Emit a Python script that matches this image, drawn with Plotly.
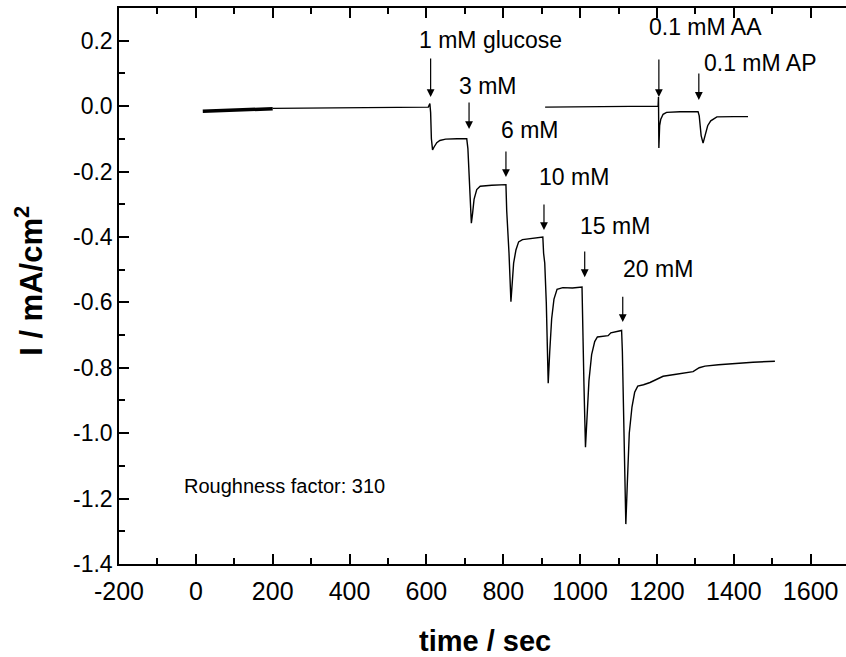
import plotly.graph_objects as go

# ---- data ----
noisy_t = [18, 60, 100, 150, 200]
noisy_i = [-0.016, -0.014, -0.012, -0.010, -0.008]

glucose_t = [200, 400, 605, 609, 611, 613, 616, 620, 627, 635, 650, 680, 705,
             708, 712, 717, 720, 724, 731, 740, 770, 800, 807,
             809, 812, 815, 820, 823, 827, 833, 840, 850, 870, 903,
             905, 908, 912, 917, 921, 926, 932, 940, 955, 980, 1005,
             1007, 1010, 1014, 1018, 1023, 1030, 1038, 1045, 1060, 1073, 1080, 1095, 1108,
             1110, 1114, 1119, 1123, 1128, 1135, 1142, 1150, 1165, 1182, 1200, 1216,
             1250, 1275, 1294, 1310, 1325, 1360, 1398, 1450, 1507]
glucose_i = [-0.007, -0.005, -0.003, 0.008, -0.02, -0.10, -0.134, -0.125, -0.112, -0.105, -0.101, -0.100, -0.100,
             -0.13, -0.22, -0.358, -0.33, -0.285, -0.255, -0.245, -0.242, -0.241, -0.240,
             -0.32, -0.37, -0.45, -0.598, -0.55, -0.48, -0.44, -0.415, -0.408, -0.405, -0.400,
             -0.45, -0.48, -0.60, -0.847, -0.75, -0.65, -0.59, -0.560, -0.555, -0.556, -0.553,
             -0.70, -0.85, -1.043, -0.95, -0.84, -0.76, -0.72, -0.706, -0.705, -0.702, -0.693, -0.690, -0.686,
             -0.75, -1.0, -1.278, -1.15, -1.0, -0.92, -0.875, -0.856, -0.852, -0.845, -0.835, -0.826,
             -0.820, -0.816, -0.812, -0.800, -0.795, -0.791, -0.787, -0.783, -0.780]

interf_t = [909, 1000, 1100, 1203, 1204, 1205, 1207, 1210, 1216, 1225, 1260, 1307,
            1310, 1315, 1320, 1325, 1332, 1340, 1356, 1400, 1437]
interf_i = [-0.003, -0.002, -0.001, 0.000, 0.028, -0.128, -0.06, -0.04, -0.025, -0.019, -0.017, -0.017,
            -0.03, -0.09, -0.113, -0.09, -0.06, -0.045, -0.033, -0.032, -0.032]

injection_t = [611, 711, 807, 906, 1012, 1111, 1205, 1309]
injection_labels = ["1 mM glucose", "3 mM", "6 mM", "10 mM", "15 mM", "20 mM", "0.1 mM AA", "0.1 mM AP"]

x_ticks = [-200, 0, 200, 400, 600, 800, 1000, 1200, 1400, 1600]
y_ticks = [0.2, 0.0, -0.2, -0.4, -0.6, -0.8, -1.0, -1.2, -1.4]

# ---- layout helpers (positions only) ----
arrow_y = [(0.150, 0.028), (0.016, -0.070), (-0.134, -0.217), (-0.296, -0.379),
           (-0.440, -0.523), (-0.578, -0.660), (0.147, 0.028), (0.104, 0.019)]
label_pos = [(575, 0.202), (679, 0.060), (789, -0.073), (888, -0.218),
             (994, -0.367), (1106, -0.497), (1174, 0.242), (1317, 0.132)]

FONT = "Arial, 'Liberation Sans', sans-serif"

fig = go.Figure()
fig.add_trace(go.Scatter(x=noisy_t, y=noisy_i, mode="lines",
                         line=dict(color="black", width=3.5), showlegend=False))
fig.add_trace(go.Scatter(x=glucose_t, y=glucose_i, mode="lines",
                         line=dict(color="black", width=1.4), showlegend=False))
fig.add_trace(go.Scatter(x=interf_t, y=interf_i, mode="lines",
                         line=dict(color="black", width=1.4), showlegend=False))

annotations = []
for t, (y0, y1) in zip(injection_t, arrow_y):
    annotations.append(dict(x=t, y=y1, ax=t, ay=y0, xref="x", yref="y", axref="x", ayref="y",
                            showarrow=True, arrowhead=2, arrowsize=1.3, arrowwidth=1.2,
                            arrowcolor="black", text=""))
for lab, (lx, ly) in zip(injection_labels, label_pos):
    annotations.append(dict(x=lx, y=ly, xref="x", yref="y", text=lab, showarrow=False,
                            xanchor="left", yanchor="middle",
                            font=dict(family=FONT, size=23, color="black")))
annotations.append(dict(x=-37, y=-1.162, xref="x", yref="y", text="Roughness factor: 310",
                        showarrow=False, xanchor="left", yanchor="middle",
                        font=dict(family=FONT, size=20, color="black")))
# axis titles
annotations.append(dict(x=0.503, y=-0.138, xref="paper", yref="paper", text="<b>time / sec</b>",
                        showarrow=False, xanchor="center", yanchor="middle",
                        font=dict(family=FONT, size=29, color="black")))
annotations.append(dict(x=-0.124, y=0.509, xref="paper", yref="paper", text="<b>I / mA/cm<sup>2</sup></b>",
                        showarrow=False, xanchor="center", yanchor="middle", textangle=-90,
                        font=dict(family=FONT, size=31, color="black")))

fig.update_layout(
    width=846, height=657,
    margin=dict(l=119, r=0, t=8, b=93),
    paper_bgcolor="white", plot_bgcolor="white",
    annotations=annotations,
    showlegend=False,
)
fig.update_xaxes(range=[-200, 1692], tickvals=x_ticks, ticktext=[str(v) for v in x_ticks],
                 ticks="inside", ticklen=10, tickwidth=1.5, tickcolor="black",
                 showline=True, linecolor="black", linewidth=1.5, mirror="ticks",
                 showgrid=False, zeroline=False,
                 tickfont=dict(family=FONT, size=25, color="black"), ticklabelstandoff=4,
                 minor=dict(ticks="inside", ticklen=6, tickwidth=1.5, tickcolor="black", dtick=100, showgrid=False))
fig.update_yaxes(range=[-1.4, 0.3], tickvals=y_ticks, ticktext=[f"{v:.1f}" for v in y_ticks],
                 ticks="inside", ticklen=10, tickwidth=1.5, tickcolor="black",
                 showline=True, linecolor="black", linewidth=1.5, mirror=False,
                 showgrid=False, zeroline=False,
                 tickfont=dict(family=FONT, size=23, color="black"), ticklabelstandoff=0,
                 minor=dict(ticks="inside", ticklen=6, tickwidth=1.5, tickcolor="black", dtick=0.1, showgrid=False))

fig.write_html("out.html")
